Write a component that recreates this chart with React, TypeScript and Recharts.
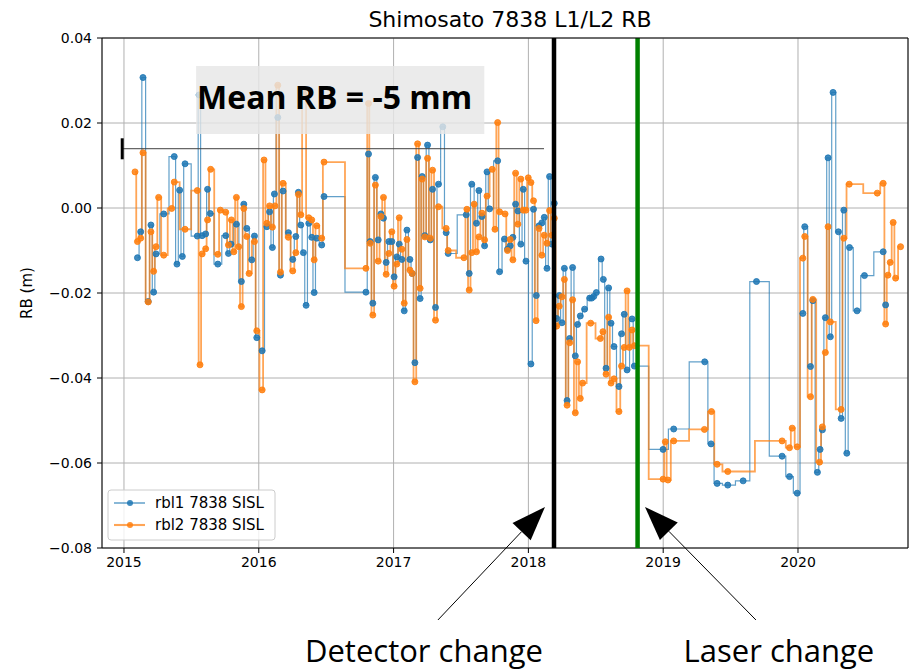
import React from 'react';
import { LineChart, Line, XAxis, YAxis, CartesianGrid, ReferenceLine, ReferenceArea } from 'recharts';

// Epochs (decimal years) and range-bias values (mm) for the two SISL solutions
const rbl1Epochs = [
  2015.100, 2015.124, 2015.141, 2015.180, 2015.200, 2015.220, 2015.238, 2015.295, 2015.373, 2015.393,
  2015.413, 2015.433, 2015.453, 2015.544, 2015.557, 2015.580, 2015.606, 2015.620, 2015.640, 2015.696,
  2015.755, 2015.775, 2015.794, 2015.834, 2015.871, 2015.889, 2015.911, 2015.948, 2015.968, 2015.985,
  2016.025, 2016.060, 2016.080, 2016.101, 2016.116, 2016.141, 2016.161, 2016.180, 2016.220, 2016.252,
  2016.275, 2016.294, 2016.312, 2016.331, 2016.351, 2016.371, 2016.393, 2016.411, 2016.430, 2016.467,
  2016.484, 2016.795, 2016.814, 2016.826, 2016.846, 2016.865, 2016.886, 2016.906, 2016.925, 2016.945,
  2016.965, 2016.987, 2017.004, 2017.024, 2017.042, 2017.061, 2017.079, 2017.099, 2017.121, 2017.138,
  2017.158, 2017.178, 2017.197, 2017.212, 2017.232, 2017.252, 2017.272, 2017.289, 2017.311, 2017.333,
  2017.365, 2017.390, 2017.405, 2017.539, 2017.561, 2017.580, 2017.615, 2017.633, 2017.655, 2017.675,
  2017.693, 2017.712, 2017.772, 2017.786, 2017.823, 2017.845, 2017.865, 2017.885, 2017.905, 2017.922,
  2017.944, 2017.962, 2017.982, 2018.019, 2018.038, 2018.059, 2018.079, 2018.100, 2018.118, 2018.138,
  2018.157, 2018.175, 2018.192, 2018.210, 2018.229, 2018.249, 2018.267, 2018.287, 2018.306, 2018.328,
  2018.348, 2018.365, 2018.385, 2018.417, 2018.455, 2018.470, 2018.485, 2018.504, 2018.539, 2018.556,
  2018.576, 2018.595, 2018.613, 2018.635, 2018.672, 2018.691, 2018.711, 2018.732, 2018.769, 2018.786,
  2018.999, 2019.078, 2019.308, 2019.355, 2019.400, 2019.479, 2019.593, 2019.692, 2019.882, 2019.937,
  2019.994, 2020.036, 2020.050, 2020.093, 2020.110, 2020.144, 2020.164, 2020.181, 2020.203, 2020.223,
  2020.240, 2020.260, 2020.300, 2020.320, 2020.340, 2020.362, 2020.382, 2020.438, 2020.493, 2020.632,
  2020.650,
];
const rbl1Mm = [
  -11.7, -5.6, 30.7, -22.0, -4.0, -19.8, -10.8, -1.4, 12.1, -13.2,
  4.2, -11.4, 10.4, -6.6, 26.6, -6.5, -6.1, 4.4, -1.3, -13.2,
  -6.5, -10.7, -8.5, -3.8, -17.3, 0.9, -4.8, -12.2, -6.6, -30.5,
  -33.6, -4.4, -0.9, -9.3, 3.3, 21.3, -15.8, 4.0, -5.8, -12.1,
  -6.7, 3.7, -4.0, -10.5, -22.9, -3.6, -6.9, -19.9, -7.1, -8.7,
  2.7, -19.8, 12.7, -7.9, -22.4, 7.2, -7.5, -1.4, -2.4, -12.8,
  -7.9, -7.9, -16.2, -11.5, -8.5, -12.1, -24.2, -5.2, -12.1, -15.4,
  -36.4, 11.9, -21.3, 7.4, -6.5, 14.8, -7.5, 4.4, -23.4, 5.6,
  19.1, -5.8, -10.7, -1.6, -15.4, 5.6, -3.6, 4.1, -2.0, -8.9,
  8.5, -0.2, 11.1, -15.0, -7.3, -9.7, -8.9, -6.9, 0.9, -0.7,
  -8.5, 4.4, -12.5, -36.7, -0.3, -20.6, -4.2, -3.5, -2.2, -14.2,
  7.4, -8.5, 1.1, -26.0, -20.6, -27.0, -14.2, -45.3, -30.7, -14.0,
  -34.8, -27.4, -25.4, -23.8, -21.2, -21.2, -20.8, -19.9, -12.0, -16.8,
  -37.7, -18.8, -27.1, -32.6, -42.0, -29.6, -25.0, -38.1, -26.1, -37.2,
  -56.8, -52.0, -36.2, -55.5, -64.8, -65.2, -64.2, -17.3, -58.4, -63.2,
  -67.1, -24.8, -4.4, -37.3, -21.8, -62.2, -56.8, -52.2, -25.8, 11.8,
  -30.3, 27.2, -5.6, -49.5, -0.5, -57.7, -9.3, -24.2, -15.9, -10.3,
  -22.8,
];
const rbl2Epochs = [
  2015.082, 2015.100, 2015.124, 2015.141, 2015.180, 2015.200, 2015.220, 2015.238, 2015.257, 2015.295,
  2015.354, 2015.373, 2015.453, 2015.544, 2015.564, 2015.580, 2015.606, 2015.620, 2015.643, 2015.696,
  2015.715, 2015.755, 2015.775, 2015.797, 2015.815, 2015.834, 2015.851, 2015.871, 2015.889, 2015.911,
  2015.928, 2015.968, 2015.985, 2016.025, 2016.039, 2016.060, 2016.080, 2016.101, 2016.120, 2016.141,
  2016.161, 2016.180, 2016.220, 2016.252, 2016.275, 2016.294, 2016.312, 2016.331, 2016.371, 2016.393,
  2016.411, 2016.430, 2016.467, 2016.484, 2016.795, 2016.814, 2016.826, 2016.846, 2016.865, 2016.886,
  2016.906, 2016.925, 2016.945, 2016.965, 2016.987, 2017.004, 2017.024, 2017.042, 2017.061, 2017.079,
  2017.099, 2017.121, 2017.138, 2017.158, 2017.178, 2017.197, 2017.212, 2017.232, 2017.252, 2017.272,
  2017.289, 2017.311, 2017.333, 2017.390, 2017.405, 2017.522, 2017.544, 2017.561, 2017.580, 2017.598,
  2017.615, 2017.633, 2017.655, 2017.675, 2017.693, 2017.732, 2017.752, 2017.772, 2017.786, 2017.827,
  2017.845, 2017.865, 2017.885, 2017.905, 2017.922, 2017.944, 2017.962, 2017.982, 2017.999, 2018.019,
  2018.038, 2018.057, 2018.079, 2018.100, 2018.118, 2018.138, 2018.157, 2018.175, 2018.192, 2018.210,
  2018.229, 2018.249, 2018.267, 2018.287, 2018.306, 2018.328, 2018.348, 2018.365, 2018.385, 2018.402,
  2018.462, 2018.534, 2018.553, 2018.576, 2018.595, 2018.613, 2018.635, 2018.672, 2018.691, 2018.711,
  2018.732, 2018.749, 2018.769, 2018.786, 2018.999, 2019.016, 2019.035, 2019.078, 2019.306, 2019.358,
  2019.400, 2019.479, 2019.882, 2019.937, 2019.957, 2019.994, 2020.036, 2020.050, 2020.093, 2020.110,
  2020.160, 2020.181, 2020.203, 2020.223, 2020.240, 2020.320, 2020.340, 2020.380, 2020.588, 2020.632,
  2020.650, 2020.667, 2020.684, 2020.706, 2020.724, 2020.761,
];
const rbl2Mm = [
  8.5, -7.9, -7.1, 13.0, -22.1, -5.6, -14.9, -9.1, 2.5, -11.1,
  -0.1, 6.1, -5.0, 4.1, -36.9, -10.8, -9.6, -2.8, 9.1, -10.9,
  -0.5, -1.0, -8.7, -2.8, -10.3, 2.5, -9.1, -23.2, -0.1, -6.7,
  -15.4, -7.9, -28.9, -42.8, 11.3, -3.6, 0.5, -4.5, 0.5, 28.9,
  -15.1, 5.8, -6.9, -14.8, -10.5, 3.2, -1.6, 27.0, -2.3, -2.8,
  -12.2, -4.2, -7.1, 10.8, -14.2, 24.6, -8.3, -25.2, 5.4, -12.5,
  -2.0, 2.5, -15.6, -10.7, -5.6, -18.4, -13.2, -2.3, -9.7, -22.4,
  -7.4, -14.6, -15.4, -40.9, 15.1, -18.9, 6.8, -6.8, 11.7, -7.1,
  8.9, -26.4, 0.3, -4.8, -10.0, -11.7, -0.3, -19.3, -10.5, 0.9,
  -10.3, -6.8, -1.2, -7.5, 2.8, 9.1, -5.0, 20.1, -0.9, -1.4,
  -10.0, -7.4, -12.2, 8.2, -3.8, 6.8, -0.5, -0.5, 7.1, 6.0,
  1.7, -26.5, -4.8, -11.1, -6.4, -8.3, -0.6, -6.4, -2.4, -27.8,
  -23.1, -20.9, -16.8, -46.4, -31.7, -21.6, -48.2, -36.2, -44.8, -41.2,
  -27.1, -30.7, -29.1, -39.1, -25.7, -41.2, -40.2, -47.9, -37.2, -32.8,
  -19.5, -32.8, -28.7, -32.4, -63.8, -55.0, -64.0, -54.8, -52.1, -47.9,
  -60.3, -62.0, -54.8, -56.4, -51.8, -56.2, -11.8, -6.7, -44.4, -21.5,
  -59.8, -51.5, -34.0, -4.4, -26.8, -47.4, -7.1, 5.6, 3.5, 5.8,
  -27.3, -15.8, -12.8, -3.4, -16.5, -9.1,
];

const yearTicks = [2015, 2016, 2017, 2018, 2019, 2020];
const rbTicks = [-0.08, -0.06, -0.04, -0.02, 0, 0.02, 0.04];
const yearDomain: [number, number] = [2014.837, 2020.816];
const rbDomain: [number, number] = [-0.08, 0.04];

// Station events
const detectorChange = 2018.19;
const laserChange = 2018.81;

// Mean bias annotation
const meanRbMm = -5;
const meanBar = { from: 2014.987, to: 2018.116, level: 0.01395, capLow: 0.01146, capHigh: 0.0164 };
const meanBox = { x1: 2015.535, x2: 2017.673, y1: 0.0174, y2: 0.0334 };

// Arrow annotations pointing at the event lines
const detectorArrow = { tail: { x: 2017.329, y: -0.09694 }, tip: { x: 2018.123, y: -0.07035 } };
const laserArrow = { tail: { x: 2019.688, y: -0.09694 }, tip: { x: 2018.865, y: -0.07035 } };

const BLUE = '#1f77b4';
const ORANGE = '#ff7f0e';
const TICK_FONT = 'DejaVu Sans, Verdana, sans-serif';
const NOTE_FONT = 'Open Sans, Noto Sans, sans-serif';

const series = [
  { name: 'rbl1 7838 SISL', color: BLUE, width: 1.2, data: rbl1Epochs.map((t, i) => ({ t, rb: rbl1Mm[i] / 1000 })) },
  { name: 'rbl2 7838 SISL', color: ORANGE, width: 1.8, data: rbl2Epochs.map((t, i) => ({ t, rb: rbl2Mm[i] / 1000 })) },
];

// Layout
const WIDTH = 910;
const HEIGHT = 671;
const PLOT = { left: 102, top: 38, right: 908, bottom: 548 };
const Y_AXIS_W = 90;
const X_AXIS_H = 30;

const fmtRb = (v: number) => {
  const s = Math.abs(v).toFixed(2);
  return v < -1e-9 ? '\u2212' + s : s;
};

function arrowShape(text: string, textDx: number) {
  return (p: any) => {
    const { x1, y1, x2, y2 } = p;
    const dx = x2 - x1;
    const dy = y2 - y1;
    const len = Math.hypot(dx, dy) || 1;
    const ux = dx / len;
    const uy = dy / len;
    const headLen = 34;
    const headHalf = 12.5;
    const bx = x2 - ux * headLen;
    const by = y2 - uy * headLen;
    const px = -uy;
    const py = ux;
    return (
      <g>
        <line x1={x1} y1={y1} x2={bx} y2={by} stroke="#000" strokeWidth={1} />
        <polygon
          points={`${x2},${y2} ${bx + px * headHalf},${by + py * headHalf} ${bx - px * headHalf},${by - py * headHalf}`}
          fill="#000"
        />
        <text x={x1 + textDx} y={y1 + 42} textAnchor="middle" fontFamily={NOTE_FONT} fontSize={31} fill="#000">
          {text}
        </text>
      </g>
    );
  };
}

export default function App() {
  return (
    <div style={{ position: 'absolute', left: 0, top: 0, width: WIDTH, height: HEIGHT, background: '#fff' }}>
      <LineChart
        width={WIDTH}
        height={HEIGHT}
        margin={{
          top: PLOT.top,
          right: WIDTH - PLOT.right,
          bottom: HEIGHT - PLOT.bottom - X_AXIS_H,
          left: PLOT.left - Y_AXIS_W,
        }}
      >
        <CartesianGrid stroke="#b0b0b0" strokeWidth={1} />
        <XAxis
          dataKey="t"
          type="number"
          domain={yearDomain}
          ticks={yearTicks}
          allowDataOverflow
          height={X_AXIS_H}
          tickSize={5}
          tickMargin={4}
          stroke="#000"
          tickLine={{ stroke: '#000' }}
          axisLine={{ stroke: '#000' }}
          tick={{ fontSize: 14, fontFamily: TICK_FONT, fill: '#000' }}
          tickFormatter={(v: number) => String(v)}
        />
        <YAxis
          type="number"
          domain={rbDomain}
          ticks={rbTicks}
          allowDataOverflow
          width={Y_AXIS_W}
          tickSize={5}
          tickMargin={5}
          stroke="#000"
          tickLine={{ stroke: '#000' }}
          axisLine={{ stroke: '#000' }}
          tick={{ fontSize: 14, fontFamily: TICK_FONT, fill: '#000' }}
          tickFormatter={fmtRb}
          label={{
            content: (props: any) => {
              const vb = props.viewBox || {};
              const cx = vb.x + 15;
              const cy = vb.y + vb.height / 2;
              return (
                <text
                  x={cx}
                  y={cy}
                  transform={`rotate(-90 ${cx} ${cy})`}
                  textAnchor="middle"
                  dominantBaseline="central"
                  fontFamily={TICK_FONT}
                  fontSize={15}
                  fill="#000"
                >
                  RB (m)
                </text>
              );
            },
          }}
        />

        {series.map((s) => (
          <Line
            key={s.name}
            name={s.name}
            data={s.data}
            dataKey="rb"
            type="step"
            stroke={s.color}
            strokeWidth={s.width}
            strokeOpacity={0.7}
            dot={{ r: 3, fill: s.color, stroke: s.color, strokeWidth: 1, fillOpacity: 0.85, strokeOpacity: 0.85 }}
            activeDot={false}
            isAnimationActive={false}
          />
        ))}

        {/* mean level with its cap */}
        <ReferenceLine
          segment={[{ x: meanBar.from, y: meanBar.level }, { x: meanBar.to, y: meanBar.level }]}
          stroke="#404040"
          strokeWidth={1}
          ifOverflow="visible"
          zIndex={650}
        />
        <ReferenceLine
          segment={[{ x: meanBar.from, y: meanBar.capLow }, { x: meanBar.from, y: meanBar.capHigh }]}
          stroke="#000"
          strokeWidth={3}
          ifOverflow="visible"
          zIndex={650}
        />

        {/* mean value text box */}
        <ReferenceArea
          x1={meanBox.x1}
          x2={meanBox.x2}
          y1={meanBox.y1}
          y2={meanBox.y2}
          fill="#e6e6e6"
          fillOpacity={0.82}
          stroke="none"
          ifOverflow="visible"
          zIndex={600}
          label={{
            content: (props: any) => {
              const vb = props.viewBox || {};
              return (
                <text
                  x={vb.x + 1}
                  y={vb.y + vb.height * 0.63}
                  fontFamily={NOTE_FONT}
                  fontWeight={700}
                  fontSize={32}
                  fill="#000"
                >
                  {`Mean RB = ${meanRbMm} mm`}
                </text>
              );
            },
          }}
        />

        {/* event lines */}
        <ReferenceLine x={detectorChange} stroke="#000" strokeWidth={4.5} zIndex={700} />
        <ReferenceLine x={laserChange} stroke="#008000" strokeWidth={4.5} zIndex={700} />

        {/* frame: top and right spines */}
        <ReferenceLine y={rbDomain[1]} stroke="#000" strokeWidth={1} zIndex={700} />
        <ReferenceLine x={yearDomain[1]} stroke="#000" strokeWidth={1} zIndex={700} />

        <ReferenceLine
          segment={[detectorArrow.tail, detectorArrow.tip]}
          ifOverflow="visible"
          zIndex={800}
          shape={arrowShape('Detector change', -14)}
        />
        <ReferenceLine
          segment={[laserArrow.tail, laserArrow.tip]}
          ifOverflow="visible"
          zIndex={800}
          shape={arrowShape('Laser change', 23)}
        />

        {/* title */}
        <text
          x={(PLOT.left + PLOT.right) / 2 + 5}
          y={27}
          textAnchor="middle"
          fontFamily={TICK_FONT}
          fontSize={22}
          fill="#000"
        >
          Shimosato 7838 L1/L2 RB
        </text>

        {/* legend */}
        <g>
          <rect x={108} y={490} width={167} height={50} rx={3} fill="#fff" fillOpacity={0.8} stroke="#cccccc" />
          {series.map((s, i) => {
            const cy = 503 + i * 22;
            return (
              <g key={s.name}>
                <line x1={114} x2={145} y1={cy} y2={cy} stroke={s.color} strokeWidth={s.width + 0.3} strokeOpacity={0.7} />
                <circle cx={130} cy={cy} r={3} fill={s.color} fillOpacity={0.85} />
                <text x={155} y={cy + 5} fontFamily={TICK_FONT} fontSize={15} fill="#000">
                  {s.name}
                </text>
              </g>
            );
          })}
        </g>
      </LineChart>
    </div>
  );
}
